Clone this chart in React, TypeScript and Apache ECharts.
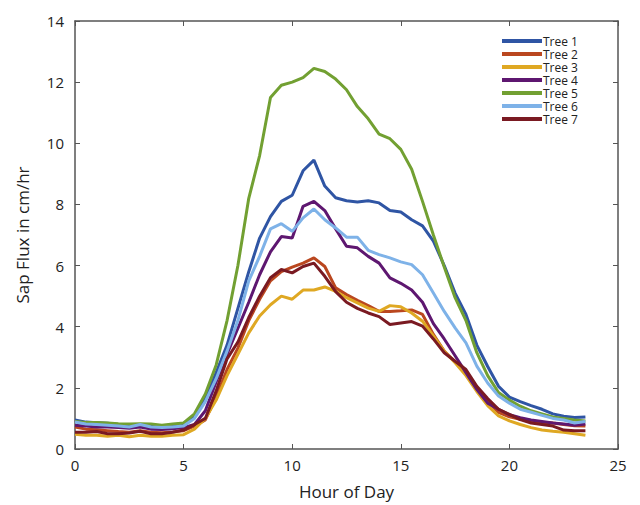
import React, { useEffect, useRef } from "react";
import * as echarts from "echarts";

const hours = [0, 0.5, 1, 1.5, 2, 2.5, 3, 3.5, 4, 4.5, 5, 5.5, 6, 6.5, 7, 7.5, 8, 8.5, 9, 9.5, 10, 10.5, 11, 11.5, 12, 12.5, 13, 13.5, 14, 14.5, 15, 15.5, 16, 16.5, 17, 17.5, 18, 18.5, 19, 19.5, 20, 20.5, 21, 21.5, 22, 22.5, 23, 23.5];

const tree1 = [0.95, 0.88, 0.86, 0.84, 0.8, 0.78, 0.8, 0.76, 0.72, 0.74, 0.78, 1.05, 1.65, 2.5, 3.4, 4.6, 5.8, 6.9, 7.6, 8.1, 8.3, 9.1, 9.45, 8.6, 8.22, 8.12, 8.08, 8.12, 8.05, 7.8, 7.75, 7.5, 7.3, 6.8, 6.0, 5.1, 4.4, 3.4, 2.7, 2.05, 1.7, 1.55, 1.42, 1.3, 1.15, 1.07, 1.03, 1.05];
const tree2 = [0.72, 0.65, 0.63, 0.6, 0.57, 0.55, 0.6, 0.55, 0.53, 0.56, 0.6, 0.75, 0.95, 1.7, 2.6, 3.3, 4.2, 4.9, 5.5, 5.8, 5.95, 6.08, 6.25, 5.97, 5.27, 5.05, 4.86, 4.69, 4.5, 4.5, 4.52, 4.55, 4.4, 3.75, 3.2, 2.85, 2.45, 1.95, 1.55, 1.2, 1.05, 0.97, 0.92, 0.87, 0.85, 0.8, 0.76, 0.75];
const tree3 = [0.48, 0.45, 0.45, 0.42, 0.45, 0.4, 0.45, 0.42, 0.42, 0.45, 0.47, 0.65, 1.0, 1.6, 2.4, 3.1, 3.8, 4.35, 4.72, 5.0, 4.9, 5.2, 5.2, 5.3, 5.16, 4.95, 4.78, 4.61, 4.5, 4.69, 4.65, 4.45, 4.18, 3.7, 3.2, 2.82, 2.4, 1.88, 1.42, 1.08, 0.92, 0.8, 0.7, 0.62, 0.58, 0.55, 0.5, 0.45];
const tree4 = [0.78, 0.75, 0.72, 0.72, 0.7, 0.68, 0.72, 0.65, 0.64, 0.66, 0.7, 0.8, 1.25, 2.2, 3.1, 3.95, 4.8, 5.7, 6.45, 6.95, 6.9, 7.94, 8.1, 7.8, 7.2, 6.63, 6.58, 6.3, 6.08, 5.6, 5.42, 5.2, 4.8, 4.1, 3.6, 3.05, 2.5, 1.95, 1.5, 1.3, 1.12, 1.02, 0.95, 0.9, 0.85, 0.82, 0.78, 0.82];
const tree5 = [0.9, 0.87, 0.87, 0.85, 0.83, 0.82, 0.83, 0.82, 0.78, 0.82, 0.85, 1.15, 1.8, 2.75, 4.2, 6.0, 8.2, 9.6, 11.5, 11.9, 12.0, 12.15, 12.45, 12.35, 12.1, 11.75, 11.2, 10.8, 10.3, 10.15, 9.8, 9.15, 8.1, 7.0, 5.95, 4.95, 4.2, 3.15, 2.4, 1.85, 1.6, 1.4, 1.25, 1.15, 1.05, 1.0, 0.95, 0.92];
const tree6 = [0.88, 0.82, 0.8, 0.78, 0.75, 0.72, 0.8, 0.72, 0.7, 0.72, 0.75, 1.0, 1.55, 2.3, 3.2, 4.2, 5.5, 6.3, 7.2, 7.37, 7.12, 7.56, 7.85, 7.5, 7.23, 6.93, 6.93, 6.5, 6.36, 6.25, 6.12, 6.03, 5.7, 5.1, 4.5, 3.96, 3.47, 2.71, 2.16, 1.73, 1.5, 1.3, 1.2, 1.1, 1.0, 0.95, 0.85, 0.9];
const tree7 = [0.55, 0.55, 0.57, 0.5, 0.5, 0.52, 0.58, 0.5, 0.5, 0.55, 0.62, 0.8, 1.0, 1.9, 2.95, 3.5, 4.3, 5.0, 5.6, 5.87, 5.76, 5.97, 6.08, 5.65, 5.15, 4.8, 4.6, 4.45, 4.33, 4.07, 4.12, 4.17, 4.02, 3.6, 3.15, 2.87, 2.6, 2.05, 1.65, 1.3, 1.13, 0.96, 0.85, 0.8, 0.75, 0.62, 0.6, 0.6];

const seriesNames = ["Tree 1", "Tree 2", "Tree 3", "Tree 4", "Tree 5", "Tree 6", "Tree 7"];
const seriesValues = [tree1, tree2, tree3, tree4, tree5, tree6, tree7];
const colors = ["#2F55A4", "#BA471F", "#DFA823", "#5E1770", "#72A032", "#7EB2E8", "#7A1A22"];

const FONT = "'Open Sans', 'Noto Sans', sans-serif";
const TXT = "#222";
const AXC = "#555";

export default function App() {
  const ref = useRef<HTMLDivElement>(null);
  useEffect(() => {
    if (!ref.current) return;
    const chart = echarts.init(ref.current, undefined, { renderer: "svg" });
    const axisCommon = {
      axisLine: { show: true, onZero: false, lineStyle: { color: AXC, width: 1.5 } },
      axisTick: { show: true, inside: true, length: 5, lineStyle: { color: AXC, width: 1 } },
      splitLine: { show: false },
    };
    chart.setOption({
      animation: false,
      backgroundColor: "#fff",
      color: colors,
      textStyle: { fontFamily: FONT },
      grid: { left: 75, top: 21, right: 22, bottom: 55, containLabel: false },
      legend: {
        orient: "vertical",
        left: 502,
        top: 35,
        padding: 0,
        icon: "rect",
        itemWidth: 40,
        itemHeight: 4,
        itemGap: 1,
        data: seriesNames,
        textStyle: { fontFamily: FONT, fontSize: 12, color: TXT, padding: [0, 0, 0, -4], lineHeight: 12, height: 12 },
      },
      xAxis: [
        {
          type: "value",
          min: 0,
          max: 25,
          interval: 5,
          name: "Hour of Day",
          nameLocation: "middle",
          nameGap: 34,
          nameTextStyle: { fontFamily: FONT, fontSize: 17, color: TXT },
          axisLabel: { fontFamily: FONT, fontSize: 15, color: TXT, margin: 8 },
          ...axisCommon,
        },
        {
          type: "value",
          position: "top",
          min: 0,
          max: 25,
          interval: 5,
          axisLabel: { show: false },
          ...axisCommon,
        },
      ],
      yAxis: [
        {
          type: "value",
          min: 0,
          max: 14,
          interval: 2,
          name: "Sap Flux in cm/hr",
          nameLocation: "middle",
          nameGap: 44,
          nameRotate: 90,
          nameTextStyle: { fontFamily: FONT, fontSize: 17, color: TXT },
          axisLabel: { fontFamily: FONT, fontSize: 15, color: TXT, margin: 11 },
          ...axisCommon,
        },
        {
          type: "value",
          position: "right",
          min: 0,
          max: 14,
          interval: 2,
          axisLabel: { show: false },
          ...axisCommon,
        },
      ],
      series: seriesNames.map((name, i) => ({
        name,
        type: "line",
        xAxisIndex: 0,
        yAxisIndex: 0,
        showSymbol: false,
        symbol: "none",
        lineStyle: { width: 3, color: colors[i] },
        itemStyle: { color: colors[i] },
        data: hours.map((h, j) => [h, seriesValues[i][j]]),
      })),
    });
    return () => chart.dispose();
  }, []);
  return <div ref={ref} style={{ width: 640, height: 505, position: "absolute", left: 0, top: 0 }} />;
}
